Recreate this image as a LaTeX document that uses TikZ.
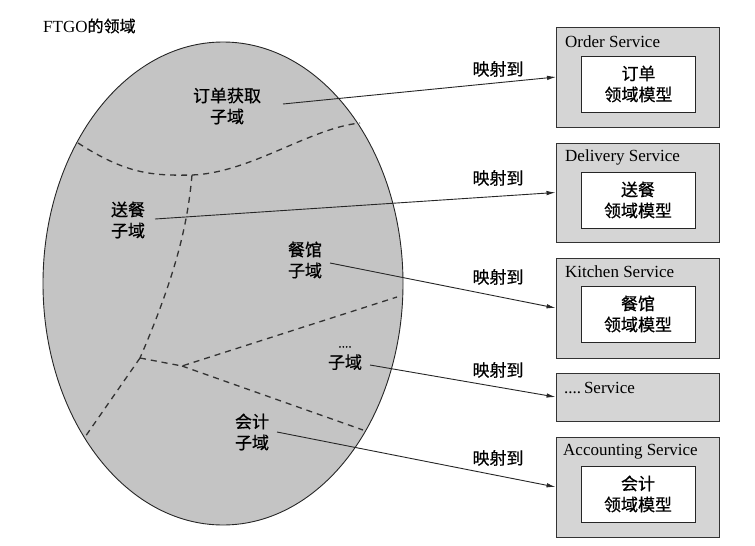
\documentclass[tikz,border=0pt]{standalone}
\usepackage{fontspec}
\setmainfont{Liberation Serif}
\newfontfamily\cjk[FakeBold=0.6]{Noto Sans CJK SC}
\usetikzlibrary{arrows.meta}
\definecolor{ellfill}{HTML}{C4C4C4}
\definecolor{boxfill}{HTML}{D5D5D5}
\begin{document}
\begin{tikzpicture}[x=1pt,y=-1pt,
  lbl/.style={font=\fontsize{17}{21}\selectfont\cjk, align=center, inner sep=0pt},
  maplbl/.style={font=\fontsize{17}{21}\selectfont\cjk, inner sep=0pt},
  svcbox/.style={draw=black!80, line width=0.9pt, fill=boxfill, minimum width=163pt, inner sep=0pt},
  svctitle/.style={font=\fontsize{17}{20}\selectfont, anchor=west, inner sep=0pt},
  modelbox/.style={draw=black!85, line width=0.9pt, fill=white, minimum width=114pt, minimum height=56pt, align=center, font=\fontsize{17}{21}\selectfont\cjk, inner sep=0pt},
  mapline/.style={draw=black!85, line width=0.9pt, -{Latex[length=9pt,width=4.5pt]}},
  divline/.style={draw=black!80, line width=1.3pt, dash pattern=on 6pt off 5pt}
]
\useasboundingbox (0,0) rectangle (755,546);

% title
\node[anchor=west, inner sep=0pt, font=\fontsize{17}{20}\selectfont] (title) at (43,26) {FTGO{\cjk\fontsize{16}{20}\selectfont 的领域}};

% domain ellipse
\fill[ellfill] (223,283.5) ellipse [x radius=180, y radius=241.5];

% subdomain boundaries
\draw[divline] (78,143) .. controls (125,173) and (150,176) .. (192,175)
  .. controls (250,173) and (310,128) .. (360,123);
\draw[divline] (192,175) .. controls (188,220) and (178,270) .. (140,358);
\draw[divline] (140,358) -- (85,437);
\draw[divline] (140,358) -- (182,366) -- (397,297);
\draw[divline] (182,366) -- (363,430);

\draw[black!85, line width=0.9pt] (223,283.5) ellipse [x radius=180, y radius=241.5];

% subdomain labels
\node[lbl] (sd1) at (227,106) {订单获取\\子域};
\node[lbl] (sd2) at (128,220) {送餐\\子域};
\node[lbl] (sd3) at (305,260) {餐馆\\子域};
\node[lbl] (sd4) at (345,358) {{\fontsize{12}{14}\selectfont ....}\\子域};
\node[lbl] (sd5) at (252,432) {会计\\子域};

\coordinate (s1) at (283,104);
\coordinate (s2) at (155,219);
\coordinate (s3) at (330,263);
\coordinate (s4) at (370,365);
\coordinate (s5) at (277,432);

% services
\node[svcbox, minimum height=100pt] (order) at (638,77) {};
\node[svctitle] (ordert) at (565,42) {Order Service};
\node[modelbox] (orderm) at (638.5,84) {订单\\领域模型};

\node[svcbox, minimum height=99pt] (deliv) at (637.5,192.5) {};
\node[svctitle] (delivt) at (565,157) {Delivery Service};
\node[modelbox] (delivm) at (638,200) {送餐\\领域模型};

\node[svcbox, minimum height=100pt] (kitch) at (637.5,308) {};
\node[svctitle] (kitcht) at (565,272) {Kitchen Service};
\node[modelbox] (kitchm) at (638,314) {餐馆\\领域模型};

\node[svcbox, minimum height=48pt] (other) at (637.5,397) {};
\node[svctitle] (othert) at (564,388) {....\,Service};

\node[svcbox, minimum height=100pt] (acct) at (637.5,487) {};
\node[svctitle] (acctt) at (563,452) {Accounting Service};
\node[modelbox] (acctm) at (638,494) {会计\\领域模型};

% mapping arrows
\draw[mapline] (s1) -- (order.west);
\draw[mapline] (s2) -- (deliv.west);
\draw[mapline] (s3) -- (kitch.west);
\draw[mapline] (s4) -- (other.west);
\draw[mapline] (s5) -- (acct.west);

\node[maplbl] (m1) at (498,69) {映射到};
\node[maplbl] (m2) at (498,178) {映射到};
\node[maplbl] (m3) at (498,277) {映射到};
\node[maplbl] (m4) at (498,370) {映射到};
\node[maplbl] (m5) at (498,458) {映射到};
\end{tikzpicture}
\end{document}
